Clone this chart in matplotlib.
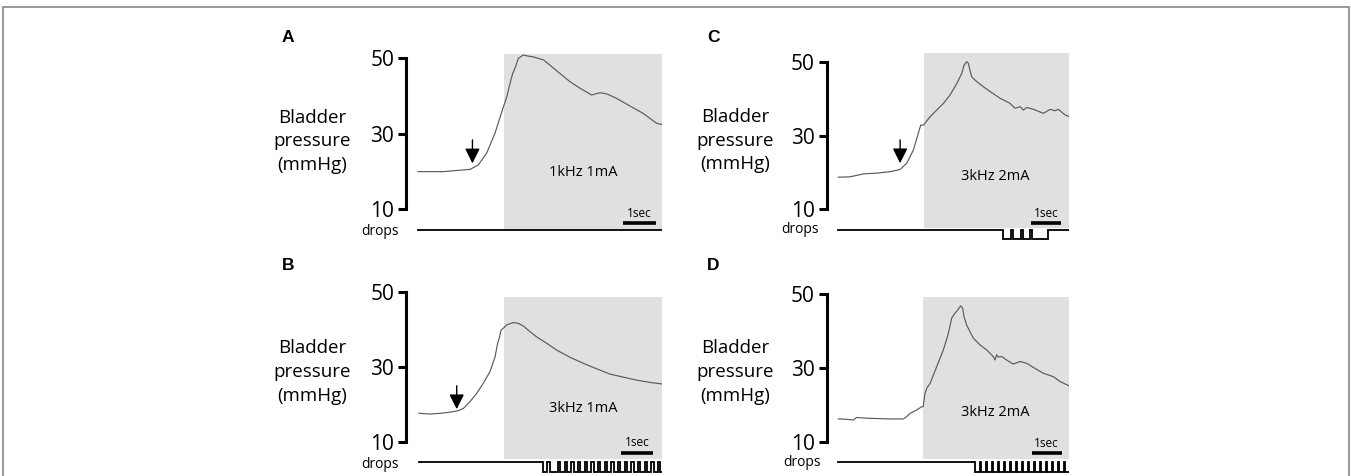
import matplotlib
matplotlib.use('Agg')
import matplotlib.pyplot as plt
from matplotlib.patches import Rectangle

# ---------------- data (time in s, pressure in mmHg) ----------------
panel_letters = ['A', 'B', 'C', 'D']
stim_labels = ['1kHz 1mA', '3kHz 1mA', '3kHz 2mA', '3kHz 2mA']
y_ticks = [10, 30, 50]

tA = [0.0, 0.77, 1.58, 1.83, 2.08, 2.33, 2.59, 2.69, 2.79, 2.87, 2.94, 3.04, 3.19, 3.34,
      3.49, 3.80, 4.00, 4.30, 4.61, 4.91, 5.26, 5.52, 5.72, 6.02, 6.42, 6.83, 7.23, 7.38]
pA = [19.9, 19.9, 20.5, 21.7, 24.8, 30.0, 37.1, 39.7, 43.3, 45.9, 47.3, 49.9, 50.8, 50.5,
      50.3, 49.5, 48.1, 45.9, 43.7, 42.0, 40.2, 40.8, 40.5, 39.3, 37.3, 35.3, 32.7, 32.4]

tB = [0.0, 0.35, 0.66, 0.98, 1.24, 1.40, 1.61, 1.82, 2.03, 2.24, 2.40, 2.48, 2.53, 2.59, 2.66,
      2.77, 2.97, 3.13, 3.29, 3.50, 3.71, 4.03, 4.34, 4.76, 5.18, 5.61, 6.03, 6.45, 6.87, 7.29, 7.66]
pB = [17.7, 17.5, 17.7, 18.0, 18.4, 19.0, 20.8, 23.0, 25.7, 28.8, 32.7, 36.3, 37.6, 39.8, 40.3,
      41.2, 41.8, 41.6, 40.9, 39.4, 38.0, 36.3, 34.5, 32.6, 31.0, 29.5, 28.1, 27.3, 26.5, 25.9, 25.5]

tC = [0.0, 0.39, 0.83, 1.27, 1.71, 2.04, 2.26, 2.48, 2.64, 2.72, 2.81, 3.03, 3.25, 3.47, 3.69,
      3.91, 4.08, 4.15, 4.24, 4.29, 4.40, 4.57, 4.79, 5.01, 5.34, 5.67, 5.83, 6.00, 6.11, 6.22,
      6.44, 6.77, 6.99, 7.15, 7.26, 7.48, 7.62]
pC = [18.7, 18.8, 19.6, 19.8, 20.2, 20.8, 22.5, 26.1, 30.6, 32.8, 32.8, 35.1, 36.9, 38.7, 41.0,
      44.1, 46.9, 49.1, 50.0, 49.6, 45.9, 44.6, 43.2, 41.9, 40.1, 38.7, 37.4, 37.8, 36.9, 37.6,
      37.1, 36.0, 37.1, 36.7, 37.1, 35.6, 35.1]

tD = [0.0, 0.28, 0.50, 0.61, 0.95, 1.72, 2.17, 2.28, 2.39, 2.61, 2.78, 2.83, 2.89, 2.95, 3.06,
      3.28, 3.50, 3.67, 3.78, 3.89, 4.00, 4.08, 4.15, 4.19, 4.28, 4.50, 4.72, 4.95, 5.17, 5.22,
      5.28, 5.33, 5.45, 5.61, 5.83, 6.06, 6.28, 6.50, 6.84, 7.17, 7.39, 7.70]
pD = [16.3, 16.2, 16.0, 16.7, 16.5, 16.3, 16.3, 16.9, 17.8, 18.7, 19.6, 19.6, 23.2, 24.6, 25.9,
      30.4, 34.9, 39.4, 43.5, 44.8, 45.9, 46.8, 46.1, 43.9, 41.6, 38.1, 36.3, 34.9, 33.1, 32.2,
      33.6, 33.0, 33.1, 32.2, 31.1, 31.8, 31.3, 30.2, 28.6, 27.7, 26.4, 25.2]

# stimulation onset (s)
stim_start = [2.61, 2.69, 2.84, 2.83]

# arrow (time, top pressure, tip pressure); None = no arrow
arrows = [(1.65, 28.3, 22.1), (1.19, 25.0, 18.8), (2.04, 28.8, 22.5), None]

# voiding drops: low intervals (start, end) in s
dropsA = []
dropsB = [(3.92, 4.05), (4.13, 4.40), (4.46, 4.60), (4.67, 4.81), (4.88, 5.02), (5.09, 5.23),
          (5.30, 5.44), (5.51, 5.65), (5.72, 5.86), (5.93, 6.07), (6.14, 6.28), (6.35, 6.49),
          (6.56, 6.70), (6.77, 6.91), (6.98, 7.12), (7.19, 7.33), (7.40, 7.54), (7.61, 7.66)]
dropsC = [(5.45, 5.69), (5.76, 6.02), (6.09, 6.34), (6.40, 6.93)]
dropsD = [(4.56, 4.72), (4.76, 4.92), (4.96, 5.12), (5.16, 5.32), (5.36, 5.52), (5.56, 5.72),
          (5.76, 5.92), (5.96, 6.12), (6.16, 6.32), (6.36, 6.52), (6.56, 6.72), (6.76, 6.92),
          (6.96, 7.12), (7.16, 7.32), (7.36, 7.52), (7.56, 7.70)]

times = [tA, tB, tC, tD]
pressures = [pA, pB, pC, pD]
drops = [dropsA, dropsB, dropsC, dropsD]

# ---------------- layout (pixels) ----------------
W, H = 1351, 476
layout = [
    dict(axis_x=406, x0=418, pps=33.0, y50=58, y10=209, shade_top=54, shade_bot=229,
         drops_y=230, bar_x=623, bar_y=223, sec_y=213.5, letter=(288, 37),
         ylab_x=312, ylab_base=(123, 146.5, 170), drops_lab=(380, 231), stim=(583, 172)),
    dict(axis_x=406, x0=419, pps=31.7, y50=291.7, y10=442.3, shade_top=296.7, shade_bot=459,
         drops_y=462.3, bar_x=621, bar_y=452.7, sec_y=443, letter=(288, 265),
         ylab_x=312, ylab_base=(353, 377, 401), drops_lab=(380, 464), stim=(583, 408)),
    dict(axis_x=826.7, x0=838.3, pps=30.3, y50=61.7, y10=209.3, shade_top=53.3, shade_bot=228,
         drops_y=230, bar_x=1030.7, bar_y=222.7, sec_y=213, letter=(713, 37),
         ylab_x=735, ylab_base=(122, 145.5, 169), drops_lab=(800, 229), stim=(995, 176.7)),
    dict(axis_x=826.7, x0=838.3, pps=30.0, y50=294, y10=442.3, shade_top=297.3, shade_bot=459,
         drops_y=462.3, bar_x=1031.7, bar_y=453.3, sec_y=443.5, letter=(713, 265),
         ylab_x=735, ylab_base=(353, 377, 401), drops_lab=(801.7, 463), stim=(995, 413)),
]

FONT = 'Open Sans'
plt.rcParams['font.family'] = FONT

fig = plt.figure(figsize=(W / 100, H / 100), dpi=100)

def fx(x):
    return x / W

def fy(y):
    return 1 - y / H

# figure frame
fig.add_artist(Rectangle((fx(2.7), -0.05), fx(1349.3) - fx(2.7), fy(7) + 0.05,
                         transform=fig.transFigure, fill=False, ec='#7a7a7a', lw=1.1))

for i, letter in enumerate(panel_letters):
    L = layout[i]
    t, p = times[i], pressures[i]
    x0, pps, y50, y10 = L['x0'], L['pps'], L['y50'], L['y10']
    k = 40.0 / (y10 - y50)

    def px2t(x):
        return (x - x0) / pps

    def py2p(y):
        return 50 - (y - y50) * k

    t_end = t[-1]
    x_end = x0 + t_end * pps
    ax_top = min(L['shade_top'], y50) - 3
    ax_bot = L['shade_bot']
    ax = fig.add_axes([fx(L['axis_x']), fy(ax_bot), (x_end - L['axis_x']) / W, (ax_bot - ax_top) / H])
    ax.set_xlim(px2t(L['axis_x']), t_end)
    ax.set_ylim(py2p(ax_bot), py2p(ax_top))
    ax.patch.set_visible(False)

    s0 = stim_start[i]
    ax.add_patch(Rectangle((s0, py2p(L['shade_bot'])), t_end - s0,
                           py2p(L['shade_top']) - py2p(L['shade_bot']),
                           facecolor='#e0e0e0', edgecolor='none', zorder=0, clip_on=False))
    ax.plot(t, p, color='#5a5a5a', lw=0.85, zorder=2)

    for sp in ['top', 'right', 'bottom']:
        ax.spines[sp].set_visible(False)
    ax.spines['left'].set_bounds(10, 50)
    ax.spines['left'].set_linewidth(2.2)
    ax.set_xticks([])
    ax.set_yticks(y_ticks)
    ax.set_yticklabels([str(v) for v in y_ticks])
    ax.tick_params(axis='y', length=6, width=2.2, pad=2.5, labelsize=15)

    # scale bar
    bx = px2t(L['bar_x'])
    by = py2p(L['bar_y'])
    ax.plot([bx, bx + 1], [by, by], color='black', lw=2.6, solid_capstyle='butt', clip_on=False)
    ax.text(bx + 0.5, py2p(L['sec_y']), '1sec', ha='center', va='center', fontsize=8.5,
            family='Open Sans')

    # arrow
    if arrows[i] is not None:
        at, a_top, a_tip = arrows[i]
        ax.annotate('', xy=(at, a_tip), xytext=(at, a_top),
                    arrowprops=dict(arrowstyle='-|>,head_length=0.6,head_width=0.3',
                                    color='black', lw=1.0, shrinkA=0, shrinkB=0,
                                    mutation_scale=15))

    # drops trace
    dy = L['drops_y']
    dax = fig.add_axes([fx(L['axis_x']), fy(dy + 14), (x_end - L['axis_x']) / W, 18 / H])
    dax.set_xlim(px2t(L['axis_x']), t_end)
    depth = 9.5
    dax.set_ylim(-(14 - depth) / depth, 1 + 4 / depth)
    dax.axis('off')
    xs, ys = [0.0], [1.0]
    for (a, b) in drops[i]:
        xs += [a, a, b, b]
        ys += [1.0, 0.0, 0.0, 1.0]
    if drops[i] and drops[i][-1][1] >= t_end:
        xs, ys = xs[:-1], ys[:-1]
    else:
        xs.append(t_end)
        ys.append(1.0)
    dax.plot(xs, ys, color='black', lw=1.3, solid_joinstyle='miter')

    # texts
    fig.text(fx(L['letter'][0]), fy(L['letter'][1]), letter, ha='center', va='center',
             fontsize=12.5, fontweight='bold', family='Liberation Sans')
    for line, yb in zip(['Bladder', 'pressure', '(mmHg)'], L['ylab_base']):
        fig.text(fx(L['ylab_x']), fy(yb), line, ha='center', va='baseline', fontsize=13.5)
    fig.text(fx(L['drops_lab'][0]), fy(L['drops_lab'][1]), 'drops', ha='center', va='center',
             fontsize=10)
    fig.text(fx(L['stim'][0]), fy(L['stim'][1]), stim_labels[i], ha='center', va='center',
             fontsize=10.5)

fig.savefig('out.png', dpi=100)
